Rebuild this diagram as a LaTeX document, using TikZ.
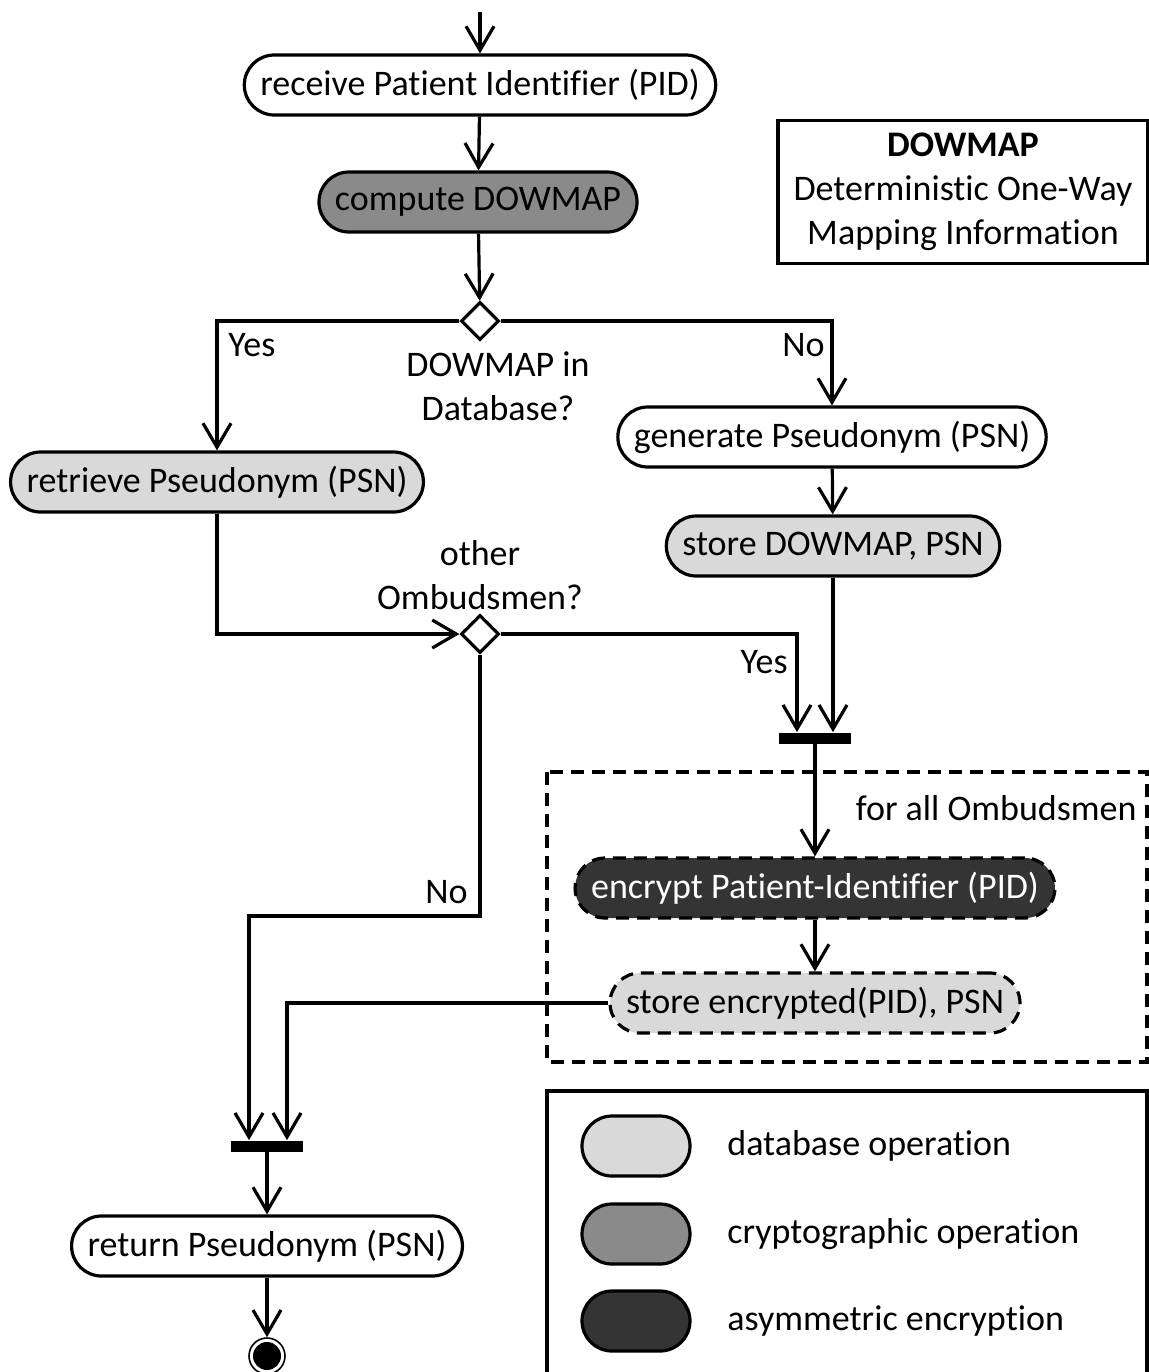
\documentclass[tikz,border=0pt]{standalone}
\usepackage{fontspec}
\setmainfont{Carlito}[Ligatures=NoCommon]
\usepackage{tikz}
\usetikzlibrary{arrows.meta,shapes.geometric}
\definecolor{dbgray}{RGB}{217,217,217}
\definecolor{cryptgray}{RGB}{138,138,138}
\definecolor{asymgray}{RGB}{52,52,52}
\tikzset{>={Straight Barb[length=12pt,width=14pt,line width=1.6pt]}}
\tikzset{
  action/.style={
    draw, line width=1.6pt, rounded corners=15pt,
    minimum height=30pt, inner xsep=8pt, inner ysep=0pt,
    font=\fontsize{18pt}{22pt}\selectfont},
  dbop/.style={action, fill=dbgray},
  cryptop/.style={action, fill=cryptgray},
  asymop/.style={action, fill=asymgray, text=white},
  loopop/.style={dash pattern=on 6.5pt off 4pt},
  decision/.style={diamond, draw, line width=1.6pt, fill=white, aspect=1,
    minimum size=19pt, inner sep=0pt},
  forkbar/.style={fill=black, inner sep=0pt, minimum width=36pt, minimum height=5.5pt},
  flow/.style={->, line width=1.6pt},
  txt/.style={font=\fontsize{18pt}{22pt}\selectfont, align=center, inner sep=0pt},
  endnode/.style={circle, draw, line width=0.8pt, minimum size=18pt, inner sep=0pt,
    path picture={\fill (path picture bounding box.center) circle (7pt);}}
}
\begin{document}
\begin{tikzpicture}[x=0.5pt,y=-0.5pt]
    \clip (0,0) rectangle (1149,1372);
    % activities
    \coordinate (start) at (480,12);
    \node[action](receive) at (480,85) {receive Patient Identifier (PID)};
    \node[cryptop](compute) at (478,202) {compute DOWMAP};
    \node[decision](dec1) at (480,321) {};
    \node[txt](dec1lab) at (498,386) {DOWMAP in\\Database?};
    \node[action](generate) at (832,437) {generate Pseudonym (PSN)};
    \node[dbop](retrieve) at (217,482) {retrieve Pseudonym (PSN)};
    \node[dbop](storemap) at (833,546) {store DOWMAP, PSN};
    \node[decision](dec2) at (480,634) {};
    \node[txt](dec2lab) at (480,575) {other\\Ombudsmen?};
    \node[forkbar](fork1) at (815,738) {};
    \node[asymop,loopop](encrypt) at (815,888) {encrypt Patient-Identifier (PID)};
    \node[dbop,loopop](storeenc) at (815,1003) {store encrypted(PID), PSN};
    \node[forkbar](fork2) at (267,1146) {};
    \node[action](return) at (267,1246) {return Pseudonym (PSN)};
    \node[endnode](end) at (267,1356) {};
    % guards
    \node[txt,anchor=west](yes1) at (228,345) {Yes};
    \node[txt,anchor=east](no1) at (825,345) {No};
    \node[txt,anchor=east](yes2) at (788,662) {Yes};
    \node[txt,anchor=east](no2) at (468,892) {No};
    % loop region
    \draw[line width=1.6pt,loopop] (547,772) rectangle (1147,1062);
    \node[txt,anchor=east](forall) at (1137,808) {for all Ombudsmen};
    % flows
    \draw[flow] (start) -- (receive);
    \draw[flow] (receive) -- (compute);
    \draw[flow] (compute) -- (dec1);
    \draw[flow] (dec1.west) -| (retrieve.north);
    \draw[flow] (dec1.east) -| (generate.north);
    \draw[flow] (generate) -- (storemap);
    \draw[flow] (retrieve.south) |- (dec2.west);
    \draw[flow] (dec2.east) -| ([xshift=-9pt]fork1.north);
    \draw[flow] (storemap.south) -- (storemap.south |- fork1.north);
    \draw[flow] (fork1) -- (encrypt);
    \draw[flow] (encrypt) -- (storeenc);
    \coordinate (bend2) at (249,916);
    \draw[flow] (dec2.south) |- (bend2) -- ([xshift=-9pt]fork2.north);
    \draw[flow] (storeenc.west) -| ([xshift=10pt]fork2.north);
    \draw[flow] (fork2) -- (return);
    \draw[flow] (return) -- (end);
    % info box
    \node[draw,line width=1.6pt,txt,minimum width=185pt,minimum height=71.5pt](info)
        at (963,192) {\textbf{DOWMAP}\\Deterministic One-Way\\Mapping Information};
    % legend
    \draw[line width=1.6pt] (547,1091) rectangle (1147,1400);
    \node[dbop,minimum width=54pt](legdb) at (636,1146) {};
    \node[cryptop,minimum width=54pt](legcrypt) at (636,1234) {};
    \node[asymop,minimum width=54pt](legasym) at (636,1321) {};
    \node[txt,anchor=west](legdbtxt) at (727,1146) {database operation};
    \node[txt,anchor=west](legcrypttxt) at (727,1234) {cryptographic operation};
    \node[txt,anchor=west](legasymtxt) at (727,1321) {asymmetric encryption};
\end{tikzpicture}
\end{document}
